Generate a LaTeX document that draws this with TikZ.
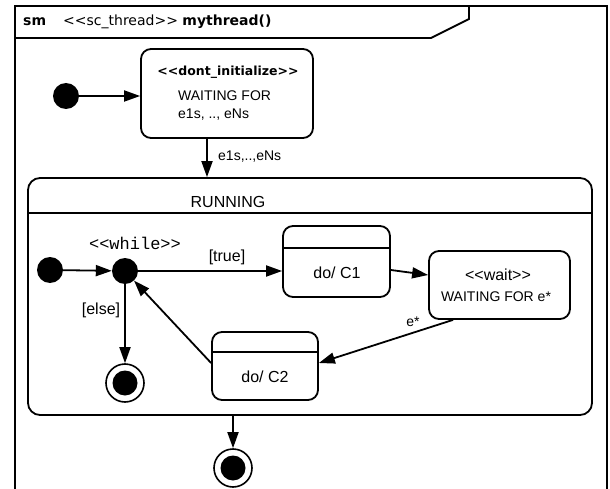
\documentclass[tikz,border=0pt]{standalone}
\usepackage{fontspec}
\setmainfont{Liberation Sans}
\newfontfamily\hdr{DejaVu Sans}
\newfontfamily\mono{Liberation Mono}
\usetikzlibrary{arrows.meta,calc}
\newcommand\dlt{<\kern0pt<}
\newcommand\dgt{>\kern0pt>}
\begin{document}
\begin{tikzpicture}[x=1pt,y=-1pt,
  ln/.style={line width=1.8pt},
  arr/.style={ln,-{Triangle[length=16pt,width=11pt]}},
  stbox/.style={draw,ln,rounded corners=10pt,inner sep=0pt},
  dot/.style={circle,fill=black,inner sep=0pt,minimum size=26pt},
  fin/.style={circle,draw,line width=1.6pt,inner sep=0pt,minimum size=38pt,
    path picture={\fill[black] (path picture bounding box.center) circle (12.5pt);}},
  txt/.style={inner sep=0pt,font=\fontsize{14}{16}\selectfont},
  lbl/.style={inner sep=0pt,font=\fontsize{16}{18}\selectfont},
]
\useasboundingbox (0,0) rectangle (610,489);
% outer frame
\draw[ln] (15,489) -- (15,6) -- (607,6) -- (607,489);
\draw[ln] (15,38) -- (431,38) -- (469,19) -- (469,6);
\node[txt,anchor=west] (smlbl) at (23,22) {\hdr\fontsize{14}{16}\selectfont\bfseries sm};
\node[txt,anchor=west] (title) at (63,22) {\hdr\fontsize{14}{16}\selectfont\dlt sc\_thread\dgt\ \textbf{mythread()}};
% top part
\node[dot] (i1) at (66,96) {};
\node[stbox,minimum width=172pt,minimum height=89pt] (dont) at (227,93.5) {};
\node[txt] (dontst) at (228,72) {\hdr\fontsize{12.5}{15}\selectfont\bfseries \dlt dont\_initialize\dgt};
\node[txt,anchor=west] (dontw) at (178,96) {WAITING FOR};
\node[txt,anchor=west] (donte) at (178,115) {e1s, .., eNs};
\draw[arr] (i1) -- (i1 -| dont.west);
% running composite
\node[stbox,rounded corners=12pt,minimum width=564pt,minimum height=237pt] (run) at (310,296.5) {};
\draw[ln] (run.west |- 0,213) -- (run.east |- 0,213);
\node[lbl] (runlbl) at (228,202) {RUNNING};
\draw[arr] (dont.south -| 207,0) -- (run.north -| 207,0);
\node[txt,anchor=west] (e1lbl) at (218,157) {e1s,..,eNs};
% inside
\node[dot] (i2) at (50,270) {};
\node[dot] (j) at (125,271) {};
\node[inner sep=0pt,font=\mono\fontsize{17}{19}\selectfont] (whl) at (135,243) {\dlt while\dgt};
\node[stbox,minimum width=107pt,minimum height=71pt] (c1) at (336.5,261.5) {};
\draw[ln] (c1.west |- 0,248) -- (c1.east |- 0,248);
\node[lbl] (c1t) at (337,273) {do/ C1};
\node[stbox,minimum width=141pt,minimum height=68pt] (wait) at (499.5,285) {};
\node[inner sep=0pt,font=\fontsize{16}{18}\selectfont] (waitst) at (498,275) {\dlt wait\dgt};
\node[txt] (waitt) at (496,297) {WAITING FOR e*};
\node[stbox,minimum width=106pt,minimum height=68pt] (c2) at (265,366) {};
\draw[ln] (c2.west |- 0,352) -- (c2.east |- 0,352);
\node[lbl] (c2t) at (265,377) {do/ C2};
\node[fin] (f1) at (125,383) {};
\node[fin] (f2) at (233,468) {};
% transitions
\draw[arr] (i2) -- (j);
\draw[arr] (j) -- (j -| c1.west);
\node[lbl] (truel) at (227,257) {[true]};
\draw[arr] (c1.east |- 0,270) -- (wait.west |- 0,275);
\draw[arr] (wait.south -| 453,0) -- (c2.east |- 0,363);
\node[txt] (estar) at (413,322) {e*};
\draw[arr] (c2.west |- 0,363) -- (j);
\draw[arr] (j) -- (f1);
\node[lbl] (elsel) at (101,310) {[else]};
\draw[arr] (run.south -| f2) -- (f2);
\end{tikzpicture}
\end{document}
